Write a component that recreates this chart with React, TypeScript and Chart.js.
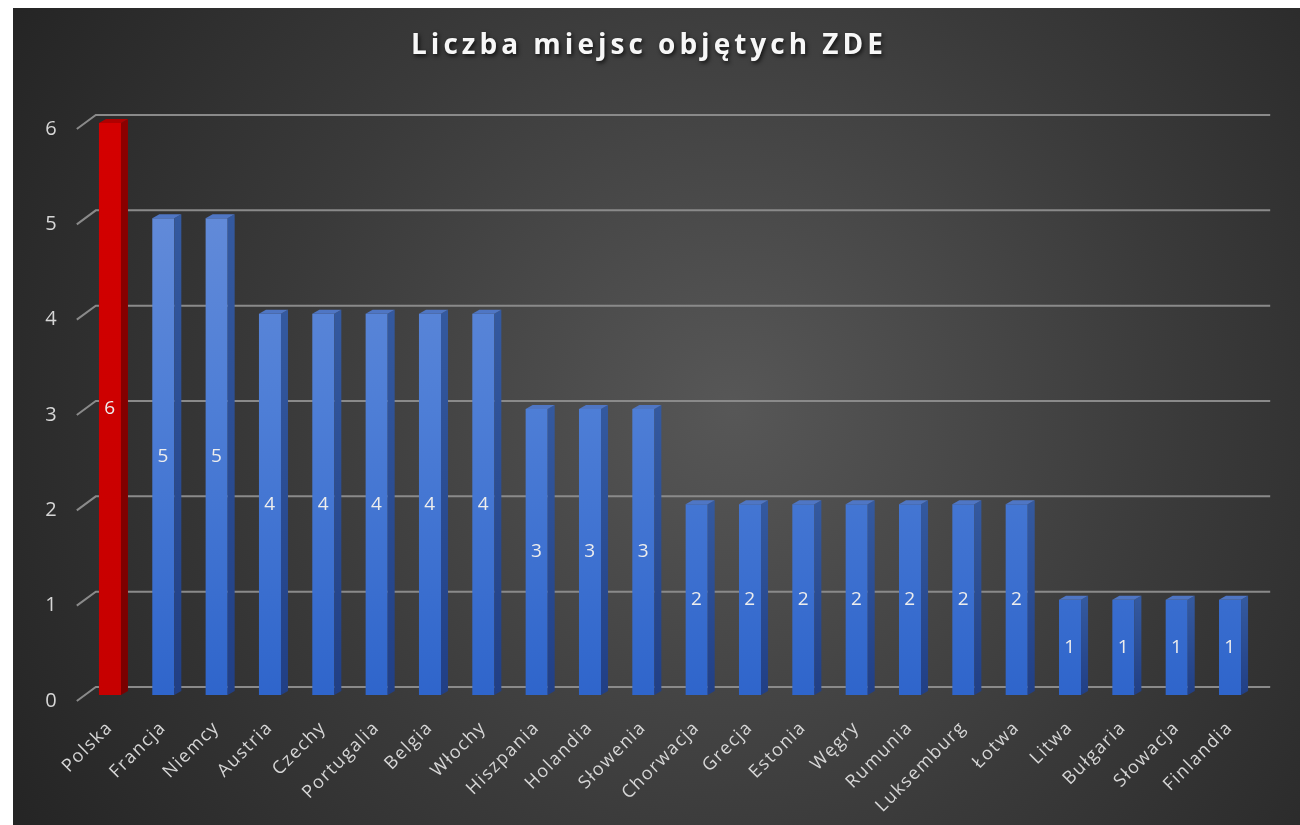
import React, { useEffect, useRef } from "react";
import { Chart, registerables } from "chart.js";

Chart.register(...registerables);

const TITLE = "Liczba miejsc objętych ZDE";
const categories = [
  "Polska", "Francja", "Niemcy", "Austria", "Czechy", "Portugalia", "Belgia", "Włochy",
  "Hiszpania", "Holandia", "Słowenia", "Chorwacja", "Grecja", "Estonia", "Węgry", "Rumunia",
  "Luksemburg", "Łotwa", "Litwa", "Bułgaria", "Słowacja", "Finlandia",
];
const values = [6, 5, 5, 4, 4, 4, 4, 4, 3, 3, 3, 2, 2, 2, 2, 2, 2, 2, 1, 1, 1, 1];
const yTicks = [0, 1, 2, 3, 4, 5, 6];
const highlighted = ["Polska"];

const W = 1287;
const H = 817;
const FONT = '"Open Sans", "Noto Sans", sans-serif';
const LABEL_COLOR = "#d6d6d6";

const isRed = (i: number) => highlighted.includes(categories[i]);

const stylePlugin = {
  id: "excel3d",
  beforeDraw(chart: any) {
    const { ctx, width, height } = chart;
    ctx.save();
    const g = ctx.createRadialGradient(720, 400, 0, 720, 400, 820);
    g.addColorStop(0, "#575757");
    g.addColorStop(0.55, "#3a3a3a");
    g.addColorStop(1, "#252525");
    ctx.fillStyle = g;
    ctx.fillRect(0, 0, width, height);
    ctx.restore();
    (ctx as any).letterSpacing = "1.5px";
  },
  beforeDatasetsDraw(chart: any) {
    const { ctx, chartArea } = chart;
    const ys = chart.scales.y;
    ctx.save();
    ctx.strokeStyle = "#8a8a8a";
    ctx.lineWidth = 2;
    yTicks.forEach((v) => {
      const py = ys.getPixelForValue(v);
      ctx.beginPath();
      ctx.moveTo(chartArea.left - 6.5, py + 6);
      ctx.lineTo(chartArea.left + 12.5, py - 8);
      ctx.lineTo(chartArea.right + 13.5, py - 8);
      ctx.stroke();
    });
    ctx.restore();
  },
  afterDatasetsDraw(chart: any) {
    const { ctx } = chart;
    const meta = chart.getDatasetMeta(0);
    ctx.save();
    meta.data.forEach((bar: any, i: number) => {
      const { x, y, base, width } = bar.getProps(["x", "y", "base", "width"], true);
      const l = x - width / 2;
      const r = x + width / 2;
      const dx = 7;
      const dy = 4;
      const red = isRed(i);
      // side face
      const sg = ctx.createLinearGradient(0, y, 0, base);
      sg.addColorStop(0, red ? "#8c0000" : "#34599f");
      sg.addColorStop(1, red ? "#7a0000" : "#213f85");
      ctx.fillStyle = sg;
      ctx.beginPath();
      ctx.moveTo(r, y);
      ctx.lineTo(r + dx, y - dy);
      ctx.lineTo(r + dx, base - dy);
      ctx.lineTo(r, base);
      ctx.closePath();
      ctx.fill();
      // top face
      ctx.fillStyle = red ? "#b00000" : "#4f76c4";
      ctx.beginPath();
      ctx.moveTo(l, y);
      ctx.lineTo(l + dx, y - dy);
      ctx.lineTo(r + dx, y - dy);
      ctx.lineTo(r, y);
      ctx.closePath();
      ctx.fill();
      // data label
      ctx.fillStyle = "#ededed";
      ctx.font = `19px ${FONT}`;
      ctx.textAlign = "center";
      ctx.textBaseline = "middle";
      ctx.fillText(String(values[i]), x + 0.5, (y + base) / 2);
    });
    ctx.restore();
  },
  afterDraw(chart: any) {
    const { ctx } = chart;
    ctx.save();
    (ctx as any).letterSpacing = "4px";
    ctx.font = `bold 28px ${FONT}`;
    ctx.textAlign = "center";
    ctx.textBaseline = "alphabetic";
    ctx.shadowColor = "rgba(0,0,0,0.75)";
    ctx.shadowBlur = 4;
    ctx.shadowOffsetX = 1.5;
    ctx.shadowOffsetY = 2;
    ctx.fillStyle = "#f7f7f7";
    ctx.fillText(TITLE, 636, 46);
    ctx.restore();
    (ctx as any).letterSpacing = "0px";
  },
};

export default function App() {
  const ref = useRef<HTMLCanvasElement | null>(null);

  useEffect(() => {
    if (!ref.current) return;
    const chart = new Chart(ref.current, {
      type: "bar",
      data: {
        labels: categories,
        datasets: [
          {
            data: values,
            barPercentage: 0.413,
            categoryPercentage: 1,
            borderWidth: 0,
            backgroundColor: (c: any) => {
              const { ctx, chartArea } = c.chart;
              const red = isRed(c.dataIndex);
              if (!chartArea) return red ? "#cc0000" : "#4a78cf";
              const g = ctx.createLinearGradient(0, chartArea.top, 0, chartArea.bottom);
              if (red) {
                g.addColorStop(0, "#d40000");
                g.addColorStop(1, "#c60000");
              } else {
                g.addColorStop(0, "#6b90da");
                g.addColorStop(0.5, "#4e7ed6");
                g.addColorStop(1, "#2f65cb");
              }
              return g;
            },
          },
        ],
      },
      options: {
        responsive: false,
        animation: false,
        layout: { padding: { top: 115, right: 43.3, left: 0, bottom: 0 } },
        plugins: {
          legend: { display: false },
          title: { display: false },
          tooltip: { enabled: false },
        },
        scales: {
          x: {
            grid: { display: false, drawTicks: false },
            border: { display: false },
            ticks: {
              color: LABEL_COLOR,
              font: { family: FONT, size: 18 },
              minRotation: 45,
              maxRotation: 45,
              autoSkip: false,
              padding: 22,
            },
            afterFit: (s: any) => {
              s.height = 130;
            },
          },
          y: {
            min: 0,
            max: 6,
            grid: { display: false, drawTicks: false },
            border: { display: false },
            ticks: {
              stepSize: 1,
              color: LABEL_COLOR,
              font: { family: FONT, size: 20 },
              padding: 25,
              labelOffset: 6,
              callback: (v: any) => (yTicks.includes(Number(v)) ? String(v) : ""),
            },
            afterFit: (s: any) => {
              s.width = 70.3;
            },
          },
        },
      },
      plugins: [stylePlugin],
    });
    return () => chart.destroy();
  }, []);

  return (
    <div style={{ position: "fixed", left: 13, top: 8, width: W, height: H }}>
      <canvas ref={ref} width={W} height={H} style={{ width: W, height: H, display: "block" }} />
    </div>
  );
}
